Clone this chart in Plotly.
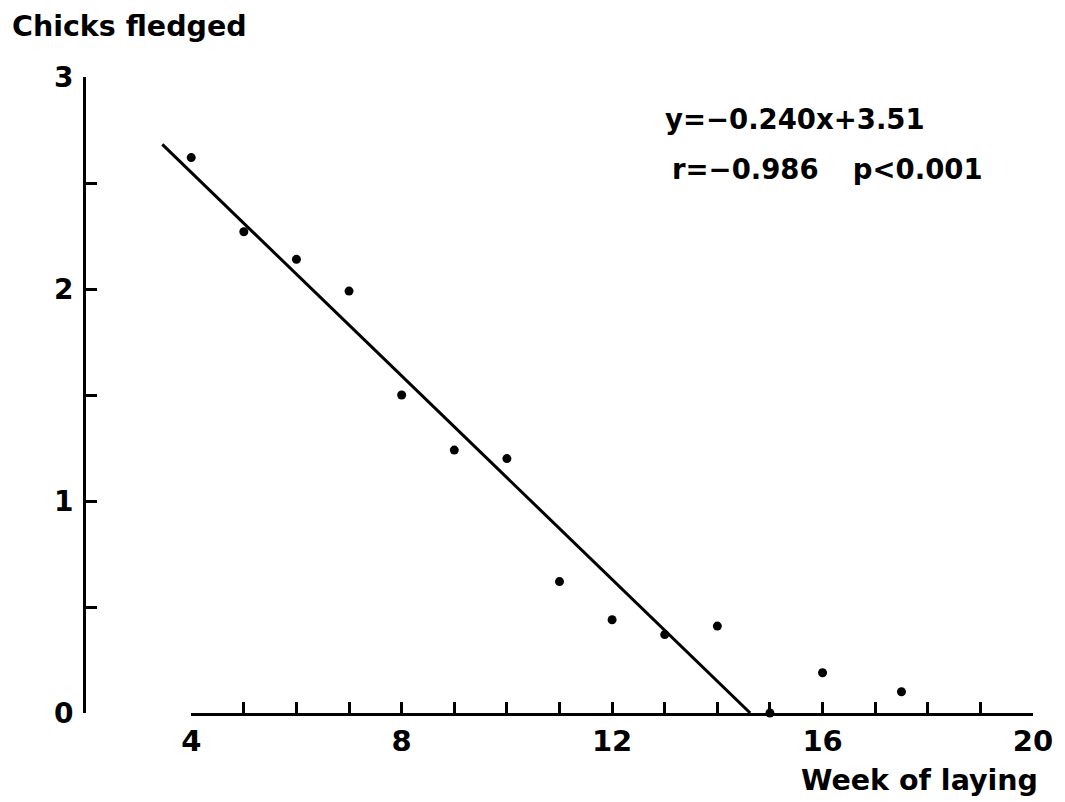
import plotly.graph_objects as go

# Data
weeks = [4, 5, 6, 7, 8, 9, 10, 11, 12, 13, 14, 15, 16, 17.5]
chicks = [2.62, 2.27, 2.14, 1.99, 1.50, 1.24, 1.20, 0.62, 0.44, 0.37, 0.41, 0.0, 0.19, 0.10]

# Regression y = slope * x + intercept
slope = -0.240
intercept = 3.51
fit_x = [3.45, -intercept / slope]
fit_y = [slope * x + intercept for x in fit_x]

y_ticks = [0, 1, 2, 3]
x_ticks = [4, 8, 12, 16, 20]

FONT = "DejaVu Sans"
W, H = 1065, 802
L, R, T, B = 86, 26, 77, 89

fig = go.Figure()

fig.add_trace(go.Scatter(
    x=fit_x, y=fit_y, mode="lines",
    line=dict(color="black", width=3),
    xaxis="x", yaxis="y", showlegend=False, hoverinfo="skip",
))
fig.add_trace(go.Scatter(
    x=weeks, y=chicks, mode="markers",
    marker=dict(color="black", size=9),
    xaxis="x2", yaxis="y", showlegend=False, cliponaxis=False,
))

x_full = [2, 20]
d_start = (x_ticks[0] - x_full[0]) / (x_full[1] - x_full[0])

fig.update_layout(
    width=W, height=H, autosize=False,
    margin=dict(l=L, r=R, t=T, b=B),
    paper_bgcolor="white", plot_bgcolor="rgba(0,0,0,0)",
    xaxis=dict(
        domain=[0, 1], range=x_full, visible=False, showgrid=False, zeroline=False,
    ),
    xaxis2=dict(
        domain=[d_start, 1], range=[x_ticks[0], x_ticks[-1]], anchor="y",
        showline=True, linecolor="black", linewidth=3,
        ticks="inside", ticklen=11, tickwidth=2.5, tickcolor="black",
        tickvals=x_ticks, ticktext=[str(t) for t in x_ticks],
        minor=dict(ticks="inside", ticklen=11, tickwidth=2.5, tickcolor="black", dtick=1, tick0=4),
        showgrid=False, zeroline=False,
        tickfont=dict(family=FONT, size=29, color="black", weight="bold"),
        ticklabelstandoff=0,
    ),
    yaxis=dict(
        domain=[0, 1], range=[0, 3], anchor="x",
        showline=True, linecolor="black", linewidth=3,
        ticks="inside", ticklen=11, tickwidth=2.5, tickcolor="black",
        tickvals=y_ticks, ticktext=[str(t) for t in y_ticks],
        minor=dict(ticks="inside", ticklen=11, tickwidth=2.5, tickcolor="black", dtick=0.5, tick0=0),
        showgrid=False, zeroline=False,
        tickfont=dict(family=FONT, size=28, color="black", weight="bold"),
        ticklabelstandoff=4,
    ),
)

pw = W - L - R
ph = H - T - B

def px_x(p):
    return (p - L) / pw

def px_y(p):
    return (H - B - p) / ph

annos = [
    dict(text="Chicks fledged", x=px_x(10), y=px_y(27), xanchor="left", yanchor="middle", size=28.5),
    dict(text="Week of laying", x=px_x(1046), y=px_y(780), xanchor="right", yanchor="middle", size=28.5),
    dict(text="y=\u22120.240x+3.51", x=px_x(667), y=px_y(119), xanchor="left", yanchor="middle", size=27.5),
    dict(text="r=\u22120.986\u00a0\u00a0\u00a0\u2009p<0.001", x=px_x(674), y=px_y(169), xanchor="left", yanchor="middle", size=27.5),
]
for a in annos:
    fig.add_annotation(
        text=a["text"], x=a["x"], y=a["y"], xref="paper", yref="paper",
        xanchor=a["xanchor"], yanchor=a["yanchor"], showarrow=False,
        font=dict(family=FONT, size=a["size"], color="black", weight="bold"),
    )

fig.write_html("out.html")
